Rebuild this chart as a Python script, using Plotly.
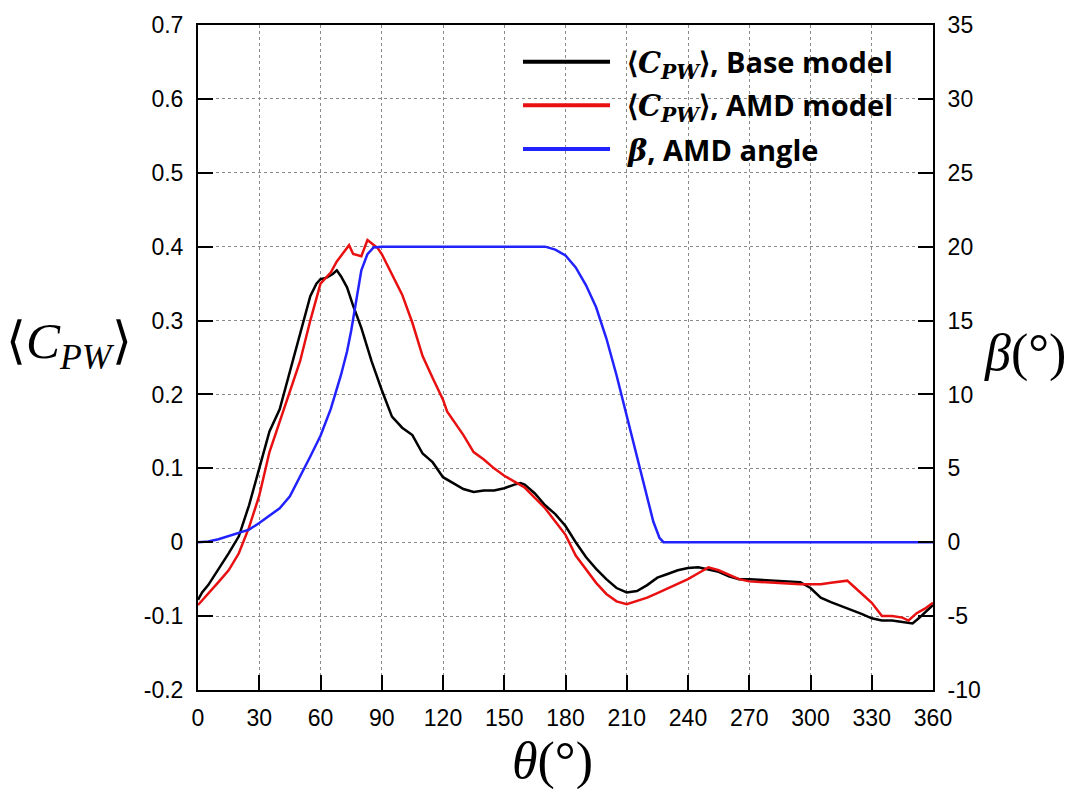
import plotly.graph_objects as go

# ---- data ----
theta_base = [0, 2, 5, 10, 15, 20, 25, 30, 35, 40, 45, 50, 55, 58, 60, 63, 66, 68, 70, 73, 76,
              80, 85, 90, 95, 100, 105, 110, 115, 120, 125, 130, 135, 140, 145, 150, 155, 158,
              160, 165, 170, 175, 180, 185, 190, 195, 200, 205, 210, 215, 220, 225, 230, 235,
              240, 245, 250, 255, 260, 265, 270, 275, 280, 285, 290, 295, 300, 305, 310, 315,
              320, 325, 330, 335, 340, 345, 350, 353, 356, 360]
cpw_base = [-0.078, -0.068, -0.058, -0.037, -0.015, 0.008, 0.05, 0.1, 0.15, 0.18, 0.23, 0.28,
            0.333, 0.35, 0.356, 0.358, 0.363, 0.368, 0.36, 0.345, 0.32,
            0.29, 0.245, 0.206, 0.17, 0.155, 0.145, 0.12, 0.108, 0.088, 0.08, 0.072, 0.068,
            0.07, 0.07, 0.073, 0.078, 0.08,
            0.078, 0.066, 0.05, 0.038, 0.022, 0.0, -0.02, -0.036, -0.05, -0.062, -0.068,
            -0.066, -0.058, -0.048, -0.043, -0.038,
            -0.035, -0.034, -0.037, -0.04, -0.046, -0.05, -0.05, -0.051, -0.052, -0.053,
            -0.053, -0.054, -0.062, -0.075, -0.081, -0.086,
            -0.091, -0.097, -0.103, -0.106, -0.106, -0.108, -0.11, -0.103, -0.095, -0.085]

theta_amd = [0, 5, 10, 15, 20, 25, 30, 35, 40, 45, 50, 55, 60, 65, 68, 71, 74, 76, 78, 80,
             83, 85, 88, 90, 95, 100, 105, 110, 115, 120, 122, 125, 130, 135, 140, 145, 150,
             155, 160, 165, 170, 175, 180, 185, 190, 195, 200, 205, 210, 215, 220, 225, 230,
             235, 240, 245, 250, 255, 260, 265, 270, 275, 280, 285, 290, 295, 300, 305, 310,
             315, 318, 322, 325, 330, 335, 340, 345, 348, 352, 356, 360]
cpw_amd = [-0.085, -0.07, -0.054, -0.038, -0.015, 0.02, 0.063, 0.122, 0.163, 0.205, 0.245,
           0.3, 0.35, 0.365, 0.38, 0.391, 0.402, 0.39, 0.388, 0.387,
           0.409, 0.405, 0.398, 0.39, 0.362, 0.335, 0.297, 0.252, 0.222, 0.193, 0.177, 0.165,
           0.145, 0.122, 0.112, 0.1, 0.09,
           0.082, 0.074, 0.06, 0.046, 0.028, 0.01, -0.018, -0.036, -0.055, -0.07, -0.08,
           -0.084, -0.08, -0.075, -0.069, -0.063,
           -0.057, -0.05, -0.042, -0.034, -0.038, -0.044, -0.05, -0.053, -0.054, -0.055,
           -0.055, -0.056, -0.057, -0.057, -0.057, -0.055,
           -0.053, -0.052, -0.062, -0.07, -0.082, -0.1, -0.1, -0.102, -0.106, -0.096, -0.09,
           -0.082]

theta_beta = [0, 5, 10, 15, 20, 25, 30, 35, 40, 45, 50, 55, 60, 65, 70, 73, 75, 78, 80, 83,
              86, 90, 120, 150, 170, 175, 180, 185, 190, 195, 200, 205, 210, 215, 220, 223,
              226, 228, 260, 300, 360]
beta_amd = [0, 0.05, 0.2, 0.4, 0.6, 0.85, 1.3, 1.8, 2.3, 3.1, 4.4, 5.8, 7.2, 9.0, 11.3, 12.9,
            14.3, 16.6, 18.4, 19.5, 19.95, 20, 20, 20, 20, 19.8, 19.4, 18.6, 17.4, 15.9, 13.8,
            11.3, 8.6, 5.8, 3.0, 1.4, 0.3, 0, 0, 0, 0]

x_ticks = list(range(0, 361, 30))
y_ticks = [-0.2, -0.1, 0, 0.1, 0.2, 0.3, 0.4, 0.5, 0.6, 0.7]
y_ticktext = ["-0.2", "-0.1", "0", "0.1", "0.2", "0.3", "0.4", "0.5", "0.6", "0.7"]
y2_ticks = [-10, -5, 0, 5, 10, 15, 20, 25, 30, 35]
y2_ticktext = ["-10", "-5", "0", "5", "10", "15", "20", "25", "30", "35"]

CPW = ("⟨<span style='font-family:DejaVu Serif'><i>C</i><sub><i>PW</i></sub></span>⟩")
names = [CPW + ", Base model",
         CPW + ", AMD model",
         "<span style='font-family:DejaVu Serif'><i>β</i></span>, AMD angle"]
colors = ["#000000", "#e81010", "#2222ff"]

# ---- geometry ----
W, H = 1075, 789
ML, MR, MT, MB = 198, 142, 19, 99
PW, PH = W - ML - MR, H - MT - MB

def px(xp):
    return (xp - ML) / PW

def py(yp):
    return (H - MB - yp) / PH

fig = go.Figure()
fig.add_trace(go.Scatter(x=theta_base, y=cpw_base, mode="lines", name="Base model",
                         line=dict(color=colors[0], width=2.5), showlegend=False))
fig.add_trace(go.Scatter(x=theta_amd, y=cpw_amd, mode="lines", name="AMD model",
                         line=dict(color=colors[1], width=2.5), showlegend=False))
fig.add_trace(go.Scatter(x=theta_beta, y=beta_amd, mode="lines", name="AMD angle",
                         yaxis="y2", line=dict(color=colors[2], width=2.5), showlegend=False))

tickfont = dict(family="Liberation Sans, Arial", size=23, color="black")
grid = dict(showgrid=True, gridcolor="#8a8a8a", griddash="dot", gridwidth=1)

fig.update_layout(
    width=W, height=H,
    margin=dict(l=ML, r=MR, t=MT, b=MB, pad=0),
    paper_bgcolor="white", plot_bgcolor="white",
    xaxis=dict(range=[0, 360], tickvals=x_ticks, ticks="inside", ticklen=15, tickwidth=2,
               tickcolor="black", showline=True, linecolor="black", linewidth=2,
               mirror=True, zeroline=False, tickfont=tickfont, ticklabelstandoff=6, **grid),
    yaxis=dict(range=[-0.2, 0.7], tickvals=y_ticks, ticktext=y_ticktext, ticks="inside",
               ticklen=15, tickwidth=2, tickcolor="black", showline=True, linecolor="black",
               linewidth=2, zeroline=False, tickfont=tickfont, ticklabelstandoff=8, **grid),
    yaxis2=dict(range=[-10, 35], tickvals=y2_ticks, ticktext=y2_ticktext, overlaying="y",
                side="right", ticks="inside", ticklen=15, tickwidth=2, tickcolor="black",
                showline=True, linecolor="black", linewidth=2, zeroline=False, showgrid=False,
                tickfont=tickfont, ticklabelstandoff=8),
)

# custom legend
leg_y = [56, 100, 144]
for i in range(3):
    fig.add_shape(type="line", xref="paper", yref="paper",
                  x0=px(523), x1=px(610), y0=py(leg_y[i]), y1=py(leg_y[i]),
                  line=dict(color=colors[i], width=4))
    fig.add_annotation(xref="paper", yref="paper", x=px(625), y=py(leg_y[i] + 1),
                       xanchor="left", yanchor="middle", showarrow=False,
                       text="<b>" + names[i] + "</b>",
                       font=dict(family="Open Sans, Noto Sans", size=29, color="black"))

# axis titles
fig.add_annotation(xref="paper", yref="paper", x=px(69), y=py(342), xanchor="center",
                   yanchor="middle", showarrow=False,
                   text="⟨<i>C</i><sub><i>PW</i></sub>⟩",
                   font=dict(family="Liberation Serif, Times New Roman", size=51, color="black"))
fig.add_annotation(xref="paper", yref="paper", x=px(1025), y=py(350), xanchor="center",
                   yanchor="middle", showarrow=False, text="<i>β</i>(°)",
                   font=dict(family="Liberation Serif, Times New Roman", size=52, color="black"))
fig.add_annotation(xref="paper", yref="paper", x=px(552), y=py(762), xanchor="center",
                   yanchor="middle", showarrow=False, text="<i>θ</i>(°)",
                   font=dict(family="Liberation Serif, Times New Roman", size=52, color="black"))

fig.write_html("out.html")
